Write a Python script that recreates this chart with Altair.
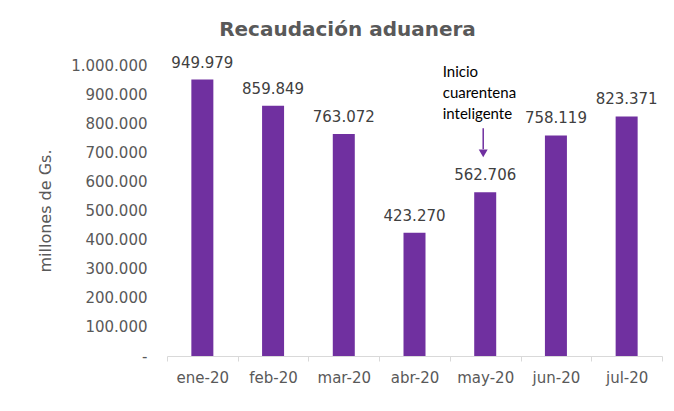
import altair as alt
import pandas as pd

months = ["ene-20", "feb-20", "mar-20", "abr-20", "may-20", "jun-20", "jul-20"]
values = [949979, 859849, 763072, 423270, 562706, 758119, 823371]
y_ticks = [0, 100000, 200000, 300000, 400000, 500000, 600000, 700000, 800000, 900000, 1000000]
annot_month = ["may-20"]
annot_value = [562706]
annot_text = ["Inicio\ncuarentena\ninteligente"]

df = pd.DataFrame({
    "mes": months,
    "valor": values,
    "label": [f"{v:,}".replace(",", ".") for v in values],
})
ann = pd.DataFrame({"mes": annot_month, "valor": annot_value, "txt": annot_text})

PURPLE = "#7030A0"
GRAY = "#595959"
FONT = "DejaVu Sans"

x = alt.X(
    "mes:N",
    sort=months,
    title=None,
    scale=alt.Scale(paddingInner=0, paddingOuter=0),
    axis=alt.Axis(
        labelAngle=0,
        labelFont=FONT,
        labelFontSize=15,
        labelColor=GRAY,
        labelPadding=9,
        tickBand="extent",
        tickColor="#D9D9D9",
        tickSize=5,
        domainColor="#D9D9D9",
        grid=False,
    ),
)
y = alt.Y(
    "valor:Q",
    scale=alt.Scale(domain=[0, 1000000], nice=False),
    title="millones de Gs.",
    axis=alt.Axis(
        values=y_ticks,
        tickCount=11,
        labelExpr="datum.value == 0 ? '-' : replace(format(datum.value, ','), regexp(',', 'g'), '.')",
        labelOverlap=False,
        labelFont=FONT,
        labelFontSize=15,
        labelColor=GRAY,
        labelPadding=20,
        ticks=False,
        domain=False,
        grid=False,
        titleFont=FONT,
        titleFontSize=16,
        titleFontWeight="normal",
        titleColor=GRAY,
        titleX=-122,
        titleY=145.5,
        titleAngle=-90,
        titleAlign="center",
        titleBaseline="middle",
    ),
)

bars = alt.Chart(df).mark_bar(size=22, color=PURPLE).encode(x=x, y=y)
labels = alt.Chart(df).mark_text(
    dy=-12, baseline="alphabetic", font=FONT, fontSize=15, color="#404040"
).encode(x=x, y=y, text="label:N")

ann_text = alt.Chart(ann).mark_text(
    align="left", baseline="alphabetic", dx=-42.5, dy=-115.5,
    lineBreak="\n", lineHeight=21, font="Lato", fontSize=15, color="#000000"
).encode(x=x, y=y, text="txt:N")

ann_line = alt.Chart(ann).mark_rule(
    color=PURPLE, strokeWidth=1.5, xOffset=-2, yOffset=-64, y2Offset=-43
).encode(x=x, y=y, y2="valor:Q")

ann_head = alt.Chart(ann).mark_point(
    shape="triangle-down", filled=True, color=PURPLE, size=80, opacity=1,
    xOffset=-2, yOffset=-39
).encode(x=x, y=y)

chart = alt.layer(bars, labels, ann_line, ann_head, ann_text).properties(
    width=495,
    height=291,
    autosize=alt.AutoSizeParams(type="none"),
    padding={"left": 159, "top": 57, "right": 4, "bottom": 47},
    title=alt.TitleParams(
        "Recaudación aduanera",
        font=FONT,
        fontSize=20,
        fontWeight="bold",
        color=GRAY,
        anchor="middle",
        frame="group",
        baseline="alphabetic",
        offset=0,
        dx=-67,
    ),
).configure_view(stroke=None)

chart.save("out.html", embed_options={"renderer": "svg", "actions": False})
